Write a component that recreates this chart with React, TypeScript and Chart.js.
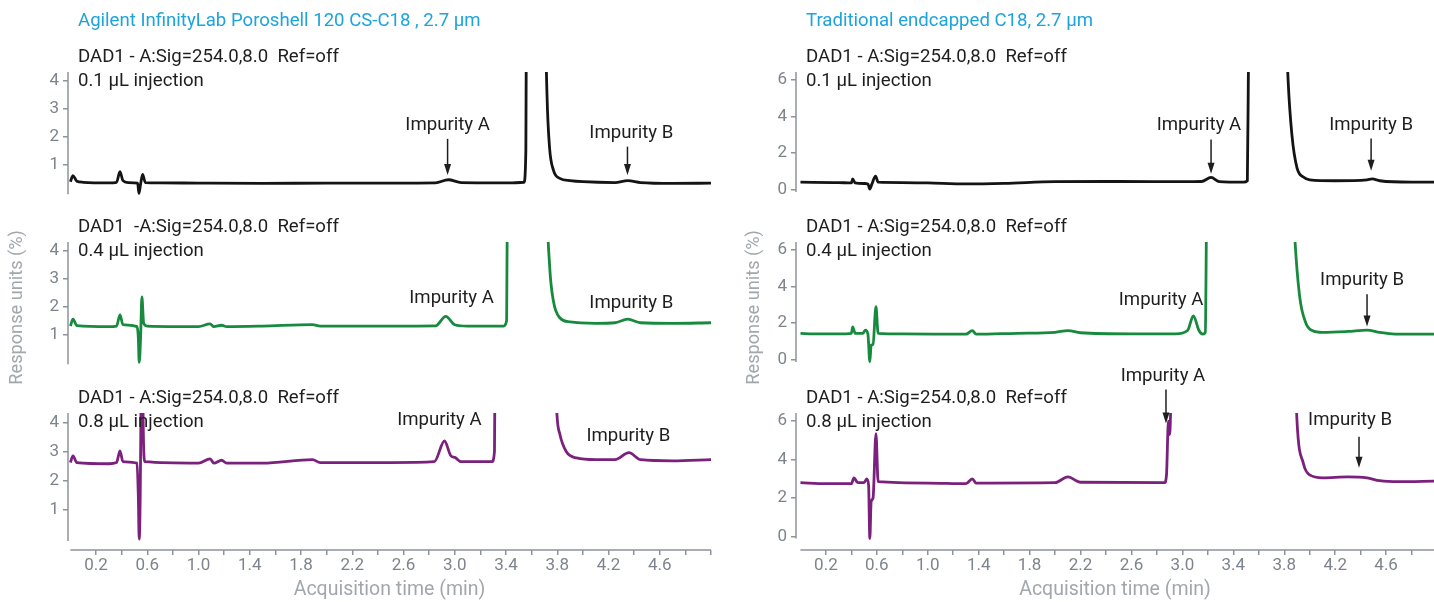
import React, { useEffect, useRef } from 'react';
import { Chart, registerables } from 'chart.js';

Chart.register(...registerables);
Chart.defaults.font.family = 'Roboto';

// ---------------- DATA ----------------
const columnTitles = ['Agilent InfinityLab Poroshell 120 CS-C18 , 2.7 µm', 'Traditional endcapped C18, 2.7 µm'];
const signalLabels = [
  ['DAD1 - A:Sig=254.0,8.0  Ref=off', 'DAD1  -A:Sig=254.0,8.0  Ref=off', 'DAD1 - A:Sig=254.0,8.0  Ref=off'],
  ['DAD1 - A:Sig=254.0,8.0  Ref=off', 'DAD1 - A:Sig=254.0,8.0  Ref=off', 'DAD1 - A:Sig=254.0,8.0  Ref=off'],
];
const injectionLabels = ['0.1 µL injection', '0.4 µL injection', '0.8 µL injection'];
const xAxisTitle = 'Acquisition time (min)';
const yAxisTitle = 'Response units (%)';

const xTickValues = [0.2, 0.4, 0.6, 0.8, 1.0, 1.2, 1.4, 1.6, 1.8, 2.0, 2.2, 2.4, 2.6, 2.8, 3.0, 3.2, 3.4, 3.6, 3.8, 4.0, 4.2, 4.4, 4.6, 4.8, 5.0];
const xTickLabels = ['0.2', '', '0.6', '', '1.0', '', '1.4', '', '1.8', '', '2.2', '', '2.6', '', '3.0', '', '3.4', '', '3.8', '', '4.2', '', '4.6', '', ''];
const leftYTicks = [1, 2, 3, 4];
const rightYTicks = [0, 2, 4, 6];

// Poroshell 120 CS-C18 — 0.1 µL
const poro01Time = [0, 0.02, 0.05, 0.1, 0.3, 0.36, 0.387, 0.41, 0.45, 0.525, 0.535, 0.548, 0.564, 0.585, 0.7, 1.0, 1.5, 2.0, 2.5, 2.85, 2.95, 3.05, 3.45, 3.54, 3.555, 3.57, 3.63, 3.69, 3.71, 3.72, 3.74, 3.77, 3.82, 3.9, 4.0, 4.25, 4.35, 4.45, 4.7, 5.0];
const poro01Signal = [0.38, 0.6, 0.4, 0.36, 0.34, 0.36, 0.74, 0.42, 0.35, 0.33, -0.04, 0.3, 0.64, 0.35, 0.34, 0.33, 0.32, 0.33, 0.33, 0.34, 0.45, 0.35, 0.34, 0.36, 1.5, 20, 60, 20, 6, 3.5, 1.6, 0.8, 0.5, 0.42, 0.38, 0.35, 0.42, 0.35, 0.32, 0.33];

// Poroshell 120 CS-C18 — 0.4 µL
const poro04Time = [0, 0.02, 0.05, 0.3, 0.36, 0.387, 0.41, 0.52, 0.53, 0.537, 0.548, 0.558, 0.572, 0.6, 1.0, 1.09, 1.12, 1.18, 1.22, 1.5, 1.89, 1.95, 2.5, 2.85, 2.93, 3.0, 3.1, 3.38, 3.405, 3.415, 3.55, 3.7, 3.72, 3.74, 3.77, 3.82, 3.9, 4.1, 4.25, 4.35, 4.45, 4.7, 5.0];
const poro04Signal = [1.3, 1.55, 1.32, 1.28, 1.3, 1.7, 1.35, 1.28, 0.9, 0.0, 0.9, 2.35, 1.4, 1.3, 1.28, 1.38, 1.28, 1.33, 1.28, 1.3, 1.35, 1.3, 1.3, 1.31, 1.65, 1.35, 1.3, 1.3, 1.5, 10, 80, 15, 6, 3.5, 2.2, 1.6, 1.45, 1.4, 1.42, 1.55, 1.42, 1.4, 1.42];

// Poroshell 120 CS-C18 — 0.8 µL
const poro08Time = [0, 0.02, 0.05, 0.3, 0.36, 0.387, 0.41, 0.52, 0.53, 0.537, 0.545, 0.552, 0.56, 0.568, 0.58, 1.0, 1.09, 1.12, 1.18, 1.22, 1.5, 1.89, 1.95, 2.5, 2.84, 2.92, 2.97, 3.0, 3.05, 3.29, 3.31, 3.32, 3.55, 3.77, 3.79, 3.82, 3.87, 3.95, 4.1, 4.25, 4.36, 4.45, 4.7, 5.0];
const poro08Signal = [2.62, 2.85, 2.62, 2.58, 2.62, 3.02, 2.65, 2.6, 1.5, 0.0, 1.5, 5, 8, 4, 2.65, 2.6, 2.75, 2.6, 2.7, 2.6, 2.6, 2.72, 2.62, 2.62, 2.65, 3.36, 2.85, 2.8, 2.65, 2.65, 3.0, 10, 80, 12, 5, 3.6, 3.0, 2.78, 2.72, 2.72, 2.96, 2.72, 2.68, 2.72];

// Traditional endcapped C18 — 0.1 µL
const trad01Time = [0, 0.3, 0.4, 0.41, 0.43, 0.5, 0.53, 0.545, 0.56, 0.59, 0.61, 0.8, 1.0, 1.3, 1.6, 2.0, 2.5, 3.0, 3.15, 3.225, 3.29, 3.48, 3.51, 3.52, 3.65, 3.8, 3.83, 3.86, 3.9, 3.95, 4.0, 4.2, 4.45, 4.49, 4.55, 4.8, 4.98];
const trad01Signal = [0.42, 0.4, 0.38, 0.6, 0.38, 0.35, 0.32, 0.05, 0.3, 0.75, 0.42, 0.4, 0.38, 0.33, 0.36, 0.45, 0.46, 0.45, 0.46, 0.68, 0.45, 0.42, 0.5, 8, 60, 12, 6, 3, 1.2, 0.7, 0.55, 0.5, 0.55, 0.6, 0.5, 0.42, 0.42];

// Traditional endcapped C18 — 0.4 µL
const trad04Time = [0, 0.1, 0.3, 0.4, 0.41, 0.43, 0.49, 0.51, 0.53, 0.545, 0.555, 0.57, 0.593, 0.61, 0.8, 1.3, 1.35, 1.38, 1.7, 2.0, 2.1, 2.2, 2.6, 2.95, 3.04, 3.086, 3.13, 3.16, 3.18, 3.19, 3.5, 3.85, 3.88, 3.92, 3.97, 4.02, 4.1, 4.3, 4.45, 4.55, 4.7, 4.98];
const trad04Signal = [1.45, 1.42, 1.42, 1.45, 1.8, 1.45, 1.45, 1.62, 1.4, -0.1, 0.8, 0.85, 2.9, 1.45, 1.42, 1.4, 1.6, 1.4, 1.45, 1.5, 1.6, 1.48, 1.42, 1.42, 1.6, 2.4, 1.6, 1.4, 1.5, 8, 80, 12, 7, 3.5, 2.0, 1.6, 1.5, 1.55, 1.62, 1.5, 1.4, 1.4];

// Traditional endcapped C18 — 0.8 µL
const trad08Time = [0, 0.2, 0.4, 0.42, 0.45, 0.5, 0.52, 0.535, 0.545, 0.555, 0.57, 0.593, 0.61, 1.0, 1.3, 1.35, 1.38, 2.0, 2.1, 2.2, 2.86, 2.875, 2.89, 2.9, 2.91, 3.4, 3.88, 3.9, 3.95, 4.0, 4.1, 4.3, 4.45, 4.55, 4.7, 4.98];
const trad08Signal = [2.8, 2.75, 2.75, 3.05, 2.8, 2.8, 3.0, 2.7, -0.1, 1.8, 2.0, 5.35, 2.85, 2.78, 2.75, 3.0, 2.78, 2.8, 3.1, 2.82, 2.8, 3.2, 6.0, 5.3, 7.0, 80, 10, 6, 3.8, 3.2, 3.05, 3.1, 3.05, 2.9, 2.85, 2.88];

// Annotations (data coordinates: time, response)
const poroLabels = [
  [{ text: 'Impurity A', t: 2.944, v: 2.4 }, { text: 'Impurity B', t: 4.378, v: 2.12 }],
  [{ text: 'Impurity A', t: 2.975, v: 2.29 }, { text: 'Impurity B', t: 4.378, v: 2.12 }],
  [{ text: 'Impurity A', t: 2.88, v: 4.08 }, { text: 'Impurity B', t: 4.355, v: 3.53 }],
];
const poroArrows = [
  [{ t: 2.944, from: 1.92, to: 0.62 }, { t: 4.348, from: 1.64, to: 0.62 }],
  [],
  [],
];
const tradLabels = [
  [{ text: 'Impurity A', t: 3.13, v: 3.53 }, { text: 'Impurity B', t: 4.482, v: 3.53 }],
  [{ text: 'Impurity A', t: 2.832, v: 3.22 }, { text: 'Impurity B', t: 4.411, v: 4.31 }],
  [{ text: 'Impurity A', t: 2.847, v: 8.31 }, { text: 'Impurity B', t: 4.317, v: 6.03 }],
];
const tradArrows = [
  [{ t: 3.225, from: 2.75, to: 0.88 }, { t: 4.482, from: 2.8, to: 1.04 }],
  [{ t: 4.45, from: 3.58, to: 1.82 }],
  [{ t: 2.871, from: 7.64, to: 5.87 }, { t: 4.387, from: 5.19, to: 3.58 }],
];

// ---------------- STYLE / LAYOUT ----------------
const TRACE_COLORS = ['#141414', '#178a3e', '#7b217d'];
const AXIS_GRAY = '#8e939b';
const TICK_GRAY = '#7e848d';
const TITLE_GRAY = '#a2a6ad';
const BLUE = '#1ea3dc';
const TEXT = '#1e1e1e';
const TEXT_FONT = '18.6px Roboto';

const ROW_TOPS = [72, 242, 413];
const PLOT_H = 137;

type Col = {
  canvasLeft: number; canvasWidth: number; yAxisW: number; padRight: number;
  xMin: number; xMax: number; yMin: number; yMax: number; yTicks: number[]; yTitlePad: number;
};
const COLS: Col[] = [
  { canvasLeft: 0, canvasWidth: 720, yAxisW: 68, padRight: 9, xMin: -0.0187, xMax: 5.0, yMin: -0.377, yMax: 4.32, yTicks: leftYTicks, yTitlePad: 7 },
  { canvasLeft: 735, canvasWidth: 699, yAxisW: 61, padRight: 0, xMin: -0.035, xMax: 4.976, yMin: -0.7, yMax: 6.42, yTicks: rightYTicks, yTitlePad: 9 },
];

const series = [
  [[poro01Time, poro01Signal], [poro04Time, poro04Signal], [poro08Time, poro08Signal]],
  [[trad01Time, trad01Signal], [trad04Time, trad04Signal], [trad08Time, trad08Signal]],
];
const labelsByCol = [poroLabels, tradLabels];
const arrowsByCol = [poroArrows, tradArrows];

function Panel({ col, row }: { col: number; row: number }) {
  const ref = useRef<HTMLCanvasElement>(null);
  const c = COLS[col];
  const padTop = row === 0 ? 72 : 50;
  const isBottom = row === 2;
  const xAxisH = 52;
  const padBottom = isBottom ? 0 : 8;
  const height = padTop + PLOT_H + (isBottom ? xAxisH : padBottom);
  const top = ROW_TOPS[row] - padTop;

  useEffect(() => {
    const [times, vals] = series[col][row];
    const labels = labelsByCol[col][row];
    const arrows = arrowsByCol[col][row];
    const decor = {
      id: 'decor',
      afterDraw(chart: any) {
        const { ctx, chartArea, scales } = chart;
        const x = scales.x, y = scales.y;
        ctx.save();
        ctx.strokeStyle = AXIS_GRAY;
        ctx.lineWidth = 1.5;
        ctx.beginPath();
        ctx.moveTo(chartArea.left, chartArea.top);
        ctx.lineTo(chartArea.left, y.getPixelForValue(0) + 2);
        ctx.stroke();
        if (isBottom) {
          ctx.beginPath();
          ctx.moveTo(x.getPixelForValue(0), chartArea.bottom);
          ctx.lineTo(chartArea.right, chartArea.bottom);
          ctx.stroke();
        }
        ctx.font = TEXT_FONT;
        ctx.textBaseline = 'middle';
        ctx.textAlign = 'left';
        if (row === 0) {
          ctx.fillStyle = BLUE;
          ctx.fillText(columnTitles[col], chartArea.left + 10, chartArea.top - 51);
        }
        ctx.fillStyle = TEXT;
        ctx.fillText(signalLabels[col][row], chartArea.left + 10, chartArea.top - 15);
        ctx.fillText(injectionLabels[row], chartArea.left + 10, chartArea.top + 9);
        ctx.textAlign = 'center';
        for (const l of labels) {
          ctx.fillText(l.text, x.getPixelForValue(l.t), y.getPixelForValue(l.v));
        }
        ctx.strokeStyle = TEXT;
        ctx.lineWidth = 1.5;
        for (const a of arrows) {
          const px = x.getPixelForValue(a.t);
          const y1 = y.getPixelForValue(a.from);
          const y2 = y.getPixelForValue(a.to);
          ctx.beginPath();
          ctx.moveTo(px, y1);
          ctx.lineTo(px, y2 - 8);
          ctx.stroke();
          ctx.beginPath();
          ctx.moveTo(px - 3.5, y2 - 11);
          ctx.lineTo(px + 3.5, y2 - 11);
          ctx.lineTo(px, y2);
          ctx.closePath();
          ctx.fill();
        }
        ctx.restore();
      },
    };

    const xScale: any = {
      type: 'linear',
      display: isBottom,
      min: c.xMin,
      max: c.xMax,
      border: { display: false },
      grid: { drawOnChartArea: false, drawTicks: true, tickLength: 5, color: AXIS_GRAY, lineWidth: 1.5 },
      ticks: {
        autoSkip: false, maxRotation: 0, color: TICK_GRAY, padding: 1, font: { size: 17 },
        callback: (_v: any, i: number) => xTickLabels[i],
      },
      afterBuildTicks: (s: any) => { s.ticks = xTickValues.filter(v => v <= c.xMax + 1e-9).map(v => ({ value: v })); },
      title: { display: true, text: xAxisTitle, color: TITLE_GRAY, font: { size: 19.5 }, padding: { top: 2, bottom: 0 } },
    };
    if (isBottom) xScale.afterFit = (s: any) => { s.height = xAxisH; };

    const chart = new Chart(ref.current as HTMLCanvasElement, {
      type: 'line',
      data: {
        datasets: [{
          data: times.map((t, i) => ({ x: t, y: vals[i] })),
          borderColor: TRACE_COLORS[row],
          borderWidth: 2.8,
          pointRadius: 0,
          cubicInterpolationMode: 'monotone',
          fill: false,
          clip: 0,
        } as any],
      },
      options: {
        animation: false,
        responsive: false,
        devicePixelRatio: 1,
        events: [],
        layout: { padding: { top: padTop, bottom: padBottom, left: 0, right: c.padRight } },
        plugins: { legend: { display: false }, tooltip: { enabled: false } },
        scales: {
          x: xScale,
          y: {
            type: 'linear',
            min: c.yMin,
            max: c.yMax,
            border: { display: false },
            grid: { drawOnChartArea: false, drawTicks: true, tickLength: 5, color: AXIS_GRAY, lineWidth: 1.5 },
            ticks: { color: TICK_GRAY, padding: 4, font: { size: 17 }, callback: (v: any) => String(v) },
            afterBuildTicks: (s: any) => { s.ticks = c.yTicks.map(v => ({ value: v })); },
            afterFit: (s: any) => { s.width = c.yAxisW; },
            title: { display: row === 1, text: yAxisTitle, color: TITLE_GRAY, font: { size: 18.2 }, padding: { top: c.yTitlePad, bottom: 0 } },
          },
        },
      } as any,
      plugins: [decor],
    });
    return () => chart.destroy();
  }, []);

  return (
    <canvas
      ref={ref}
      width={c.canvasWidth}
      height={height}
      style={{ position: 'absolute', left: c.canvasLeft, top, width: c.canvasWidth, height }}
    />
  );
}

export default function App() {
  return (
    <div style={{ position: 'absolute', left: 0, top: 0, width: 1434, height: 602, background: '#ffffff', overflow: 'hidden' }}>
      {[0, 1].map(col => [0, 1, 2].map(row => <Panel key={`${col}-${row}`} col={col} row={row} />))}
    </div>
  );
}
